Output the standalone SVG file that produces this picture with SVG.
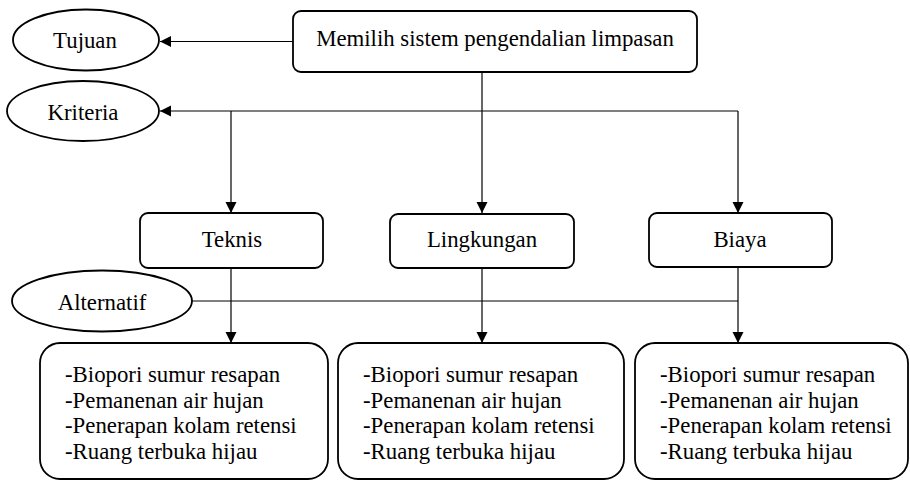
<svg xmlns="http://www.w3.org/2000/svg" width="910" height="481" viewBox="0 0 910 481">
<style>
.box{fill:#fff;stroke:#000;stroke-width:1.8}
.ell{fill:#fff;stroke:#000;stroke-width:1.8}
.ln{fill:none;stroke:#000;stroke-width:1.2}
text{font-family:"Liberation Serif","Times New Roman",serif;font-size:22.8px;fill:#000}
.c{text-anchor:middle}
</style>
<defs>
<marker id="ah" markerUnits="userSpaceOnUse" markerWidth="12" markerHeight="12" refX="11" refY="6" orient="auto">
<path d="M0,0.5 L11,6 L0,11.5 z" fill="#000"/>
</marker>
</defs>
<rect width="910" height="481" fill="#fff"/>
<g id="connectors">
<line class="ln" x1="293" y1="41.5" x2="160" y2="41.5" marker-end="url(#ah)"/>
<line class="ln" x1="738" y1="111" x2="160" y2="111" marker-end="url(#ah)"/>
<line class="ln" x1="482" y1="72" x2="482" y2="213" marker-end="url(#ah)"/>
<line class="ln" x1="231" y1="111" x2="231" y2="213" marker-end="url(#ah)"/>
<line class="ln" x1="738" y1="111" x2="738" y2="213" marker-end="url(#ah)"/>
<line class="ln" x1="192" y1="301" x2="738" y2="301"/>
<line class="ln" x1="231" y1="268" x2="231" y2="343" marker-end="url(#ah)"/>
<line class="ln" x1="482" y1="268" x2="482" y2="343" marker-end="url(#ah)"/>
<line class="ln" x1="738" y1="267" x2="738" y2="343" marker-end="url(#ah)"/>
</g>
<g id="goal">
<rect class="box" x="293" y="11" width="404" height="61" rx="8"/>
<text class="c" x="495" y="46">Memilih sistem pengendalian limpasan</text>
</g>
<g id="tujuan">
<ellipse class="ell" cx="86" cy="40" rx="73" ry="30.5"/>
<text class="c" x="85" y="48">Tujuan</text>
</g>
<g id="kriteria">
<ellipse class="ell" cx="83" cy="111" rx="76" ry="30"/>
<text class="c" x="83" y="120">Kriteria</text>
</g>
<g id="alternatif">
<ellipse class="ell" cx="102" cy="301" rx="90" ry="30.5"/>
<text class="c" x="102" y="310">Alternatif</text>
</g>
<g id="teknis">
<rect class="box" x="140" y="213" width="183" height="55" rx="8"/>
<text class="c" x="232" y="247">Teknis</text>
</g>
<g id="lingkungan">
<rect class="box" x="390" y="214" width="184" height="54" rx="8"/>
<text class="c" x="482" y="247">Lingkungan</text>
</g>
<g id="biaya">
<rect class="box" x="649" y="213" width="183" height="54" rx="8"/>
<text class="c" x="740" y="247">Biaya</text>
</g>
<g id="alt-teknis">
<rect class="box" x="40" y="343" width="288" height="136" rx="20"/>
<text x="65" y="382">-Biopori sumur resapan</text>
<text x="65" y="407.5">-Pemanenan air hujan</text>
<text x="65" y="433">-Penerapan kolam retensi</text>
<text x="65" y="458.5">-Ruang terbuka hijau</text>
</g>
<g id="alt-lingkungan">
<rect class="box" x="338" y="343" width="286" height="136" rx="20"/>
<text x="363" y="382">-Biopori sumur resapan</text>
<text x="363" y="407.5">-Pemanenan air hujan</text>
<text x="363" y="433">-Penerapan kolam retensi</text>
<text x="363" y="458.5">-Ruang terbuka hijau</text>
</g>
<g id="alt-biaya">
<rect class="box" x="635" y="343" width="273" height="136" rx="20"/>
<text x="660" y="382">-Biopori sumur resapan</text>
<text x="660" y="407.5">-Pemanenan air hujan</text>
<text x="660" y="433">-Penerapan kolam retensi</text>
<text x="660" y="458.5">-Ruang terbuka hijau</text>
</g>
</svg>
